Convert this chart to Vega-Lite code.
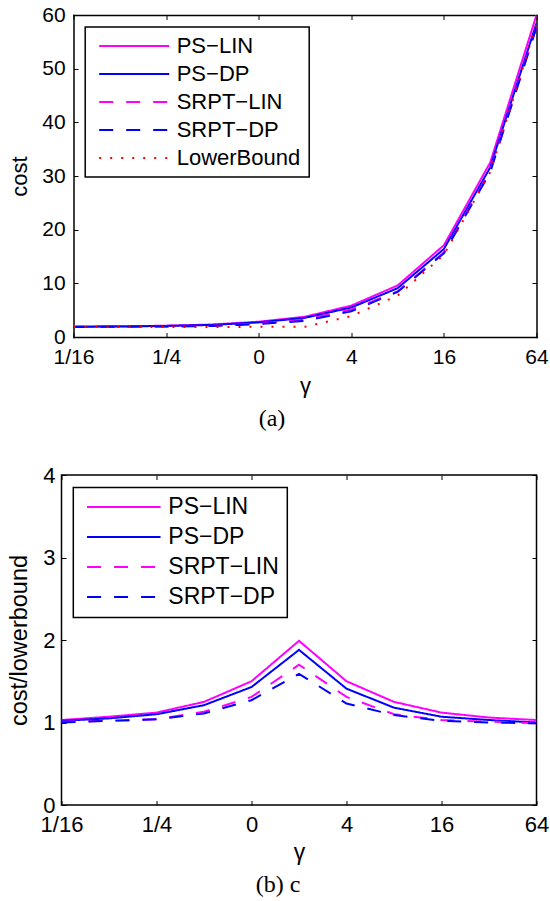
{
  "$schema": "https://vega.github.io/schema/vega-lite/v6.json",
  "padding": {"left": 6.5, "top": 4, "right": 0, "bottom": 0},
  "background": "white",
  "columns": 1,
  "align": "all",
  "center": false,
  "spacing": 25,
  "resolve": {"scale": {"color": "independent", "strokeDash": "independent"}, "legend": {"color": "independent", "strokeDash": "independent"}},
  "config": {
    "view": {"stroke": "black", "strokeWidth": 1.5},
    "font": "Liberation Sans",
    "axis": {
      "domain": false,
      "grid": false,
      "ticks": true,
      "tickSize": -4.5,
      "tickColor": "black",
      "tickWidth": 1,
      "labelFont": "Liberation Sans",
      "labelColor": "black",
      "labelFlush": false,
      "labelOverlap": false,
      "labelBound": false,
      "titleFont": "Liberation Sans",
      "titleFontWeight": "normal",
      "titleColor": "black"
    },
    "legend": {
      "orient": "none",
      "strokeColor": "black",
      "strokeWidth": 1.5,
      "fillColor": "white",
      "padding": 8,
      "symbolType": "M-3.5,0H3.5",
      "symbolStrokeWidth": 2,
      "labelFont": "Liberation Sans",
      "labelColor": "black",
      "title": null
    },
    "title": {"font": "Liberation Serif", "fontWeight": "normal", "color": "black", "orient": "bottom", "anchor": "middle"}
  },
  "datasets": {
    "costs": [
      {"gamma": 0.0625, "series": "PS−LIN", "v": 1.93},
      {"gamma": 0.125, "series": "PS−LIN", "v": 2.0},
      {"gamma": 0.25, "series": "PS−LIN", "v": 2.1},
      {"gamma": 0.5, "series": "PS−LIN", "v": 2.33},
      {"gamma": 1, "series": "PS−LIN", "v": 2.85},
      {"gamma": 2, "series": "PS−LIN", "v": 3.78},
      {"gamma": 4, "series": "PS−LIN", "v": 5.85},
      {"gamma": 8, "series": "PS−LIN", "v": 9.6},
      {"gamma": 16, "series": "PS−LIN", "v": 17.1},
      {"gamma": 32, "series": "PS−LIN", "v": 32.5},
      {"gamma": 64, "series": "PS−LIN", "v": 60.0},
      {"gamma": 0.0625, "series": "PS−DP", "v": 1.91},
      {"gamma": 0.125, "series": "PS−DP", "v": 1.96},
      {"gamma": 0.25, "series": "PS−DP", "v": 2.07},
      {"gamma": 0.5, "series": "PS−DP", "v": 2.25},
      {"gamma": 1, "series": "PS−DP", "v": 2.72},
      {"gamma": 2, "series": "PS−DP", "v": 3.57},
      {"gamma": 4, "series": "PS−DP", "v": 5.5},
      {"gamma": 8, "series": "PS−DP", "v": 9.09},
      {"gamma": 16, "series": "PS−DP", "v": 16.4},
      {"gamma": 32, "series": "PS−DP", "v": 31.6},
      {"gamma": 64, "series": "PS−DP", "v": 58.5},
      {"gamma": 0.0625, "series": "SRPT−LIN", "v": 1.89},
      {"gamma": 0.125, "series": "SRPT−LIN", "v": 1.91},
      {"gamma": 0.25, "series": "SRPT−LIN", "v": 1.96},
      {"gamma": 0.5, "series": "SRPT−LIN", "v": 2.1},
      {"gamma": 1, "series": "SRPT−LIN", "v": 2.49},
      {"gamma": 2, "series": "SRPT−LIN", "v": 3.23},
      {"gamma": 4, "series": "SRPT−LIN", "v": 5.11},
      {"gamma": 8, "series": "SRPT−LIN", "v": 8.47},
      {"gamma": 16, "series": "SRPT−LIN", "v": 15.76},
      {"gamma": 32, "series": "SRPT−LIN", "v": 31.0},
      {"gamma": 64, "series": "SRPT−LIN", "v": 57.8},
      {"gamma": 0.0625, "series": "SRPT−DP", "v": 1.87},
      {"gamma": 0.125, "series": "SRPT−DP", "v": 1.91},
      {"gamma": 0.25, "series": "SRPT−DP", "v": 1.96},
      {"gamma": 0.5, "series": "SRPT−DP", "v": 2.06},
      {"gamma": 1, "series": "SRPT−DP", "v": 2.41},
      {"gamma": 2, "series": "SRPT−DP", "v": 3.02},
      {"gamma": 4, "series": "SRPT−DP", "v": 4.8},
      {"gamma": 8, "series": "SRPT−DP", "v": 8.39},
      {"gamma": 16, "series": "SRPT−DP", "v": 15.6},
      {"gamma": 32, "series": "SRPT−DP", "v": 30.7},
      {"gamma": 64, "series": "SRPT−DP", "v": 57.7},
      {"gamma": 0.0625, "series": "LowerBound", "v": 1.87},
      {"gamma": 0.125, "series": "LowerBound", "v": 1.87},
      {"gamma": 0.25, "series": "LowerBound", "v": 1.88},
      {"gamma": 0.5, "series": "LowerBound", "v": 1.86},
      {"gamma": 1, "series": "LowerBound", "v": 1.9},
      {"gamma": 2, "series": "LowerBound", "v": 1.9},
      {"gamma": 4, "series": "LowerBound", "v": 3.9},
      {"gamma": 8, "series": "LowerBound", "v": 7.7},
      {"gamma": 16, "series": "LowerBound", "v": 15.3},
      {"gamma": 32, "series": "LowerBound", "v": 30.7},
      {"gamma": 64, "series": "LowerBound", "v": 58.3}
    ],
    "ratios": [
      {"gamma": 0.0625, "series": "PS−LIN", "v": 1.03},
      {"gamma": 0.125, "series": "PS−LIN", "v": 1.07},
      {"gamma": 0.25, "series": "PS−LIN", "v": 1.12},
      {"gamma": 0.5, "series": "PS−LIN", "v": 1.25},
      {"gamma": 1, "series": "PS−LIN", "v": 1.5},
      {"gamma": 2, "series": "PS−LIN", "v": 1.99},
      {"gamma": 4, "series": "PS−LIN", "v": 1.5},
      {"gamma": 8, "series": "PS−LIN", "v": 1.25},
      {"gamma": 16, "series": "PS−LIN", "v": 1.12},
      {"gamma": 32, "series": "PS−LIN", "v": 1.06},
      {"gamma": 64, "series": "PS−LIN", "v": 1.03},
      {"gamma": 0.0625, "series": "PS−DP", "v": 1.02},
      {"gamma": 0.125, "series": "PS−DP", "v": 1.05},
      {"gamma": 0.25, "series": "PS−DP", "v": 1.1},
      {"gamma": 0.5, "series": "PS−DP", "v": 1.21},
      {"gamma": 1, "series": "PS−DP", "v": 1.43},
      {"gamma": 2, "series": "PS−DP", "v": 1.88},
      {"gamma": 4, "series": "PS−DP", "v": 1.41},
      {"gamma": 8, "series": "PS−DP", "v": 1.18},
      {"gamma": 16, "series": "PS−DP", "v": 1.07},
      {"gamma": 32, "series": "PS−DP", "v": 1.03},
      {"gamma": 64, "series": "PS−DP", "v": 1.0},
      {"gamma": 0.0625, "series": "SRPT−LIN", "v": 1.01},
      {"gamma": 0.125, "series": "SRPT−LIN", "v": 1.02},
      {"gamma": 0.25, "series": "SRPT−LIN", "v": 1.04},
      {"gamma": 0.5, "series": "SRPT−LIN", "v": 1.13},
      {"gamma": 1, "series": "SRPT−LIN", "v": 1.31},
      {"gamma": 2, "series": "SRPT−LIN", "v": 1.7},
      {"gamma": 4, "series": "SRPT−LIN", "v": 1.31},
      {"gamma": 8, "series": "SRPT−LIN", "v": 1.1},
      {"gamma": 16, "series": "SRPT−LIN", "v": 1.03},
      {"gamma": 32, "series": "SRPT−LIN", "v": 1.01},
      {"gamma": 64, "series": "SRPT−LIN", "v": 0.99},
      {"gamma": 0.0625, "series": "SRPT−DP", "v": 1.0},
      {"gamma": 0.125, "series": "SRPT−DP", "v": 1.02},
      {"gamma": 0.25, "series": "SRPT−DP", "v": 1.04},
      {"gamma": 0.5, "series": "SRPT−DP", "v": 1.11},
      {"gamma": 1, "series": "SRPT−DP", "v": 1.27},
      {"gamma": 2, "series": "SRPT−DP", "v": 1.59},
      {"gamma": 4, "series": "SRPT−DP", "v": 1.23},
      {"gamma": 8, "series": "SRPT−DP", "v": 1.09},
      {"gamma": 16, "series": "SRPT−DP", "v": 1.02},
      {"gamma": 32, "series": "SRPT−DP", "v": 1.0},
      {"gamma": 64, "series": "SRPT−DP", "v": 0.99}
    ]
  },
  "concat": [
    {
      "width": 475,
      "height": 322,
      "view": {"stroke": null},
      "title": {"text": "(a)", "fontSize": 24, "dx": -27, "offset": 10},
      "data": {"name": "costs"},
      "layer": [
        {
          "mark": {"type": "line", "strokeWidth": 2, "clip": true},
          "encoding": {
            "x": {"field": "gamma", "type": "quantitative",
              "scale": {"type": "log", "base": 2, "domain": [0.0625, 64], "nice": false, "range": [12, 475]},
              "axis": {"values": [0.0625, 0.25, 1, 4, 16, 64], "labelExpr": "datum.value == 1 ? '0' : (datum.value < 1 ? '1/' + round(1/datum.value) : '' + datum.value)", "labelFontSize": 21, "labelPadding": 14, "title": "γ", "titleFontSize": 22, "titlePadding": 8, "domain": true, "domainColor": "black", "domainWidth": 1.5, "domainCap": "square"}},
            "y": {"field": "v", "type": "quantitative",
              "scale": {"domain": [0, 60], "nice": false, "zero": true},
              "axis": {"offset": -12, "values": [0, 10, 20, 30, 40, 50, 60], "labelFontSize": 21, "labelPadding": 12.8, "title": "cost", "titleFontSize": 22, "titlePadding": 10.5, "domain": true, "domainColor": "black", "domainWidth": 1.5, "domainCap": "square"}},
            "color": {"field": "series", "type": "nominal",
              "scale": {"domain": ["PS−LIN", "PS−DP", "SRPT−LIN", "SRPT−DP", "LowerBound"], "range": ["#ff00ff", "#0000ff", "#ff00ff", "#0000ff", "#ff0000"]},
              "legend": {"legendX": 23.7, "legendY": 12, "labelFontSize": 22, "symbolSize": 400, "symbolOffset": 30, "labelOffset": 31.5, "rowPadding": 6}},
            "strokeDash": {"field": "series", "type": "nominal",
              "scale": {"domain": ["PS−LIN", "PS−DP", "SRPT−LIN", "SRPT−DP", "LowerBound"], "range": [[1, 0], [1, 0], [14, 13], [14, 13], [2, 9]]},
              "legend": {"legendX": 23.7, "legendY": 12, "labelFontSize": 22, "symbolSize": 400, "symbolOffset": 30, "labelOffset": 31.5, "rowPadding": 6}}
          }
        },
        {
          "mark": {"type": "line", "strokeOpacity": 0},
          "encoding": {
            "x": {"field": "gamma", "type": "quantitative",
              "axis": {"orient": "top", "values": [0.0625, 0.25, 1, 4, 16, 64], "labels": false, "title": null, "domain": true, "domainColor": "black", "domainWidth": 1.5, "domainCap": "square"}},
            "y": {"field": "v", "type": "quantitative",
              "axis": {"orient": "right", "values": [0, 10, 20, 30, 40, 50, 60], "labels": false, "title": null, "domain": true, "domainColor": "black", "domainWidth": 1.5, "domainCap": "square"}},
            "detail": {"field": "series"}
          }
        }
      ],
      "resolve": {"axis": {"x": "independent", "y": "independent"}}
    },
    {
      "width": 475,
      "height": 330,
      "title": {"text": "(b) c", "fontSize": 24, "dx": -21, "offset": 8},
      "data": {"name": "ratios"},
      "layer": [
        {
          "mark": {"type": "line", "strokeWidth": 2, "clip": true},
          "encoding": {
            "x": {"field": "gamma", "type": "quantitative",
              "scale": {"type": "log", "base": 2, "domain": [0.0625, 64], "nice": false},
              "axis": {"values": [0.0625, 0.25, 1, 4, 16, 64], "labelExpr": "datum.value == 1 ? '0' : (datum.value < 1 ? '1/' + round(1/datum.value) : '' + datum.value)", "labelFontSize": 22, "labelPadding": 14.3, "title": "γ", "titleFontSize": 23, "titlePadding": 6}},
            "y": {"field": "v", "type": "quantitative",
              "scale": {"domain": [0, 4], "nice": false, "zero": true},
              "axis": {"values": [0, 1, 2, 3, 4], "labelFontSize": 22, "labelPadding": 11, "title": "cost/lowerbound", "titleFontSize": 23.5, "titlePadding": 11.5}},
            "color": {"field": "series", "type": "nominal",
              "scale": {"domain": ["PS−LIN", "PS−DP", "SRPT−LIN", "SRPT−DP"], "range": ["#ff00ff", "#0000ff", "#ff00ff", "#0000ff"]},
              "legend": {"legendX": 11.8, "legendY": 12.5, "labelFontSize": 23, "symbolSize": 441, "symbolOffset": 31, "labelOffset": 33, "rowPadding": 6}},
            "strokeDash": {"field": "series", "type": "nominal",
              "scale": {"domain": ["PS−LIN", "PS−DP", "SRPT−LIN", "SRPT−DP"], "range": [[1, 0], [1, 0], [14, 13], [14, 13]]},
              "legend": {"legendX": 11.8, "legendY": 12.5, "labelFontSize": 23, "symbolSize": 441, "symbolOffset": 31, "labelOffset": 33, "rowPadding": 6}}
          }
        },
        {
          "mark": {"type": "line", "strokeOpacity": 0},
          "encoding": {
            "x": {"field": "gamma", "type": "quantitative",
              "axis": {"orient": "top", "values": [0.0625, 0.25, 1, 4, 16, 64], "labels": false, "title": null}},
            "y": {"field": "v", "type": "quantitative",
              "axis": {"orient": "right", "values": [0, 1, 2, 3, 4], "labels": false, "title": null}},
            "detail": {"field": "series"}
          }
        }
      ],
      "resolve": {"axis": {"x": "independent", "y": "independent"}}
    }
  ]
}
